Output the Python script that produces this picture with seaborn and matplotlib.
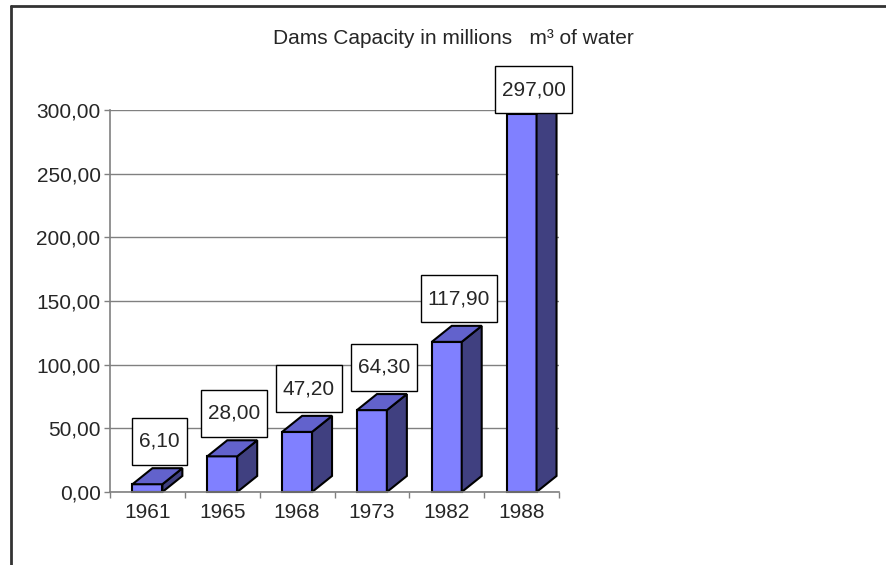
import numpy as np
import pandas as pd
import matplotlib
matplotlib.use("Agg")
import matplotlib.pyplot as plt
import seaborn as sns
from matplotlib.patches import Polygon, Rectangle
from matplotlib.lines import Line2D
from matplotlib.transforms import IdentityTransform
from matplotlib.ticker import FuncFormatter

# ---- data ----
years = ["1961", "1965", "1968", "1973", "1982", "1988"]
capacity = [6.10, 28.00, 47.20, 64.30, 117.90, 297.00]
y_ticks = [0, 50, 100, 150, 200, 250, 300]
title = "Dams Capacity in millions   m\u00b3 of water"

# ---- style ----
sns.set_style("white")
plt.rcParams["font.family"] = ["Liberation Sans", "DejaVu Sans"]

W, H = 886, 565
fig = plt.figure(figsize=(W / 100, H / 100), dpi=100)
ax = fig.add_axes([110 / W, 1 - 492 / H, (559 - 110) / W, (492 - 110) / H])

df = pd.DataFrame({"year": years, "capacity": capacity})
sns.barplot(data=df, x="year", y="capacity", ax=ax, color="#8080FF",
            saturation=1, width=0.4, edgecolor="black", linewidth=1.5)

ax.set_xlim(-0.5, 5.5)
ax.set_ylim(0, 300)
ax.set_xlabel("")
ax.set_ylabel("")

# 3D depth
dx = 0.267
dy = 12.6
top_color = "#6262CC"
side_color = "#404080"
bars = list(ax.patches)
for p in bars:
    p.set_zorder(2)
    x0 = p.get_x()
    w = p.get_width()
    h = p.get_height()
    x1 = x0 + w
    side = Polygon([(x1, 0), (x1 + dx, dy), (x1 + dx, h + dy), (x1, h)],
                   closed=True, facecolor=side_color, edgecolor="black",
                   linewidth=1.5, zorder=2, clip_on=False)
    top = Polygon([(x0, h), (x0 + dx, h + dy), (x1 + dx, h + dy), (x1, h)],
                  closed=True, facecolor=top_color, edgecolor="black",
                  linewidth=1.5, zorder=2, clip_on=False)
    ax.add_patch(side)
    ax.add_patch(top)
    p.set_clip_on(False)

# axes styling
for s in ["top", "right"]:
    ax.spines[s].set_visible(False)
for s in ["left", "bottom"]:
    ax.spines[s].set_color("#808080")
    ax.spines[s].set_linewidth(1.2)

ax.set_yticks(y_ticks)
ax.yaxis.set_major_formatter(FuncFormatter(lambda v, pos: f"{v:.2f}".replace(".", ",")))
ax.yaxis.grid(True, color="#808080", linewidth=1.0)
ax.set_axisbelow(True)
ax.tick_params(axis="y", which="major", length=4.3, width=1, color="#808080",
               labelsize=15, pad=2.5, left=True)

ax.set_xticks(np.arange(-0.5, 6, 1))
ax.set_xticklabels([])
ax.set_xticks(np.arange(len(years)), minor=True)
ax.set_xticklabels(years, minor=True)
ax.tick_params(axis="x", which="major", length=4.3, width=1, color="#808080",
               bottom=True)
ax.tick_params(axis="x", which="minor", length=0, labelsize=15, pad=8)

# value labels in boxes
renderer = fig.canvas.get_renderer()
for i, (p, v) in enumerate(zip(bars, capacity)):
    xc = p.get_x() + p.get_width() / 2 + 0.16
    yc = min(v + 33.8, 316.0)
    s = f"{v:.2f}".replace(".", ",")
    t = ax.text(xc, yc, s, ha="center", va="center", fontsize=15,
                zorder=6, clip_on=False)
    bb = t.get_window_extent(renderer)
    cx, cy = ax.transData.transform((xc, yc))
    bw = bb.width + 14
    bh = 47
    rect = Rectangle((cx - bw / 2, cy - bh / 2), bw, bh,
                     transform=IdentityTransform(), facecolor="white",
                     edgecolor="black", linewidth=1.0, zorder=5, clip_on=False)
    ax.add_patch(rect)

# title
fig.text(453 / W, 1 - 38 / H, title, ha="center", va="center", fontsize=15)

# chart frame (cropped on right / bottom)
fig.add_artist(Line2D([11 / W, 11 / W], [0, 1 - 5.5 / H], color="#333333", linewidth=2))
fig.add_artist(Line2D([11 / W, 1.0], [1 - 5.5 / H, 1 - 5.5 / H], color="#333333", linewidth=2))

fig.savefig("out.png", dpi=100)
